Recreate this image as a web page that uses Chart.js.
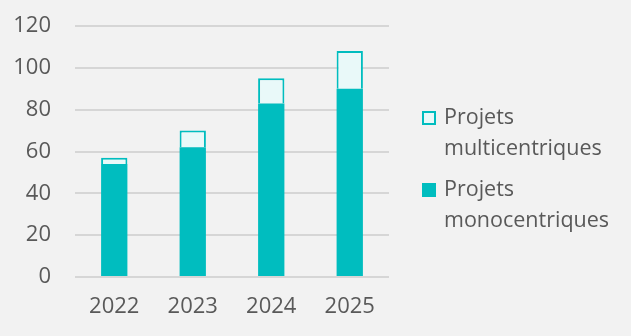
<!DOCTYPE html>
<html>
<head>
<meta charset="utf-8">
<script src="https://cdn.jsdelivr.net/npm/chart.js@4/dist/chart.umd.min.js"></script>
<style>
  html, body { margin: 0; padding: 0; background: #f2f2f2; }
  #wrap { position: relative; width: 631px; height: 336px; background: #f2f2f2; overflow: hidden; }
  canvas { position: absolute; left: 0; top: 0; }
  .leg { position: absolute; left: 422px; font-family: "Open Sans", sans-serif; font-size: 21.5px; line-height: 31px; color: #595959; }
  .leg .box { position: absolute; left: 0; width: 14px; height: 14px; box-sizing: border-box; }
  .leg .txt { position: absolute; left: 22px; white-space: nowrap; }
</style>
</head>
<body>
<div id="wrap">
  <canvas id="c" width="631" height="336"></canvas>
</div>
<script>
const categories = ["2022", "2023", "2024", "2025"];
const monocentriques = [54, 62, 83, 90];
const multicentriques = [3, 8, 12, 18];
const seriesNames = [["Projets", "multicentriques"], ["Projets", "monocentriques"]];
const yTicks = [0, 20, 40, 60, 80, 100, 120];

const TEAL = "#00bdbf";
const LIGHT = "#e9f9f9";
const TEXT = "#595959";
const GRID = "#d6d6d6";
const FONT = "'Open Sans', sans-serif";

new Chart(document.getElementById("c"), {
  type: "bar",
  data: {
    labels: categories,
    datasets: [
      { label: seriesNames[1].join(" "), data: monocentriques, backgroundColor: TEAL, borderWidth: 0 },
      { label: seriesNames[0].join(" "), data: multicentriques, backgroundColor: LIGHT, borderColor: TEAL, borderWidth: 2 }
    ]
  },
  options: {
    responsive: false,
    animation: false,
    layout: { padding: { top: 26, right: 242, bottom: 0, left: 0 } },
    plugins: { legend: { display: false }, tooltip: { enabled: false } },
    datasets: { bar: { categoryPercentage: 1, barPercentage: 0.335 } },
    scales: {
      x: {
        stacked: true,
        grid: { display: false, drawTicks: false },
        border: { display: false },
        ticks: { color: TEXT, font: { family: FONT, size: 22 }, padding: 17, maxRotation: 0 },
        afterFit: (s) => { s.height = 59; s.paddingLeft = 0; s.paddingRight = 0; }
      },
      y: {
        stacked: true,
        min: 0, max: 120,
        afterBuildTicks: (s) => { s.ticks = yTicks.map(v => ({ value: v })); },
        grid: { color: GRID, lineWidth: 2, drawTicks: false },
        border: { display: false },
        ticks: { color: TEXT, font: { family: FONT, size: 22 }, padding: 24 },
        afterFit: (s) => { s.width = 75; s.paddingTop = 0; s.paddingBottom = 0; }
      }
    }
  }
});

// HTML legend (order: multicentriques, monocentriques)
const wrap = document.getElementById("wrap");
const legendItems = [
  { lines: seriesNames[0], fill: LIGHT, border: "2px solid " + TEAL, top: 100 },
  { lines: seriesNames[1], fill: TEAL, border: "none", top: 172 }
];
legendItems.forEach(it => {
  const d = document.createElement("div");
  d.className = "leg";
  d.style.top = it.top + "px";
  const b = document.createElement("div");
  b.className = "box";
  b.style.top = "11px";
  b.style.background = it.fill;
  b.style.border = it.border;
  const t = document.createElement("div");
  t.className = "txt";
  t.innerHTML = it.lines.join("<br>");
  d.appendChild(b); d.appendChild(t);
  wrap.appendChild(d);
});
</script>
</body>
</html>
